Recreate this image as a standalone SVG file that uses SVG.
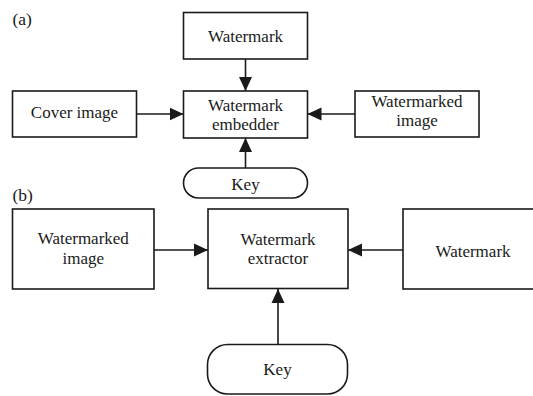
<svg xmlns="http://www.w3.org/2000/svg" width="533" height="396" viewBox="0 0 533 396">
<style>
.box{fill:#fff;stroke:#1a1a1a;stroke-width:1.6}
.t{font-family:"Liberation Serif","Times New Roman",serif;font-size:17px;fill:#1a1a1a;text-anchor:middle}
.lbl{font-family:"Liberation Serif","Times New Roman",serif;font-size:17.5px;fill:#1a1a1a}
.c{stroke:#1a1a1a;stroke-width:1.6;fill:none;marker-end:url(#ah)}
</style>
<defs>
<marker id="ah" markerUnits="userSpaceOnUse" markerWidth="14" markerHeight="14" refX="14" refY="7" orient="auto">
<path d="M0,0.5 L14,7 L0,13.5 z" fill="#1a1a1a"/>
</marker>
</defs>
<rect width="533" height="396" fill="#fff"/>
<text class="lbl" x="12.5" y="25">(a)</text>
<text class="lbl" x="12.5" y="201">(b)</text>

<g id="connectors">
<line class="c" x1="245.5" y1="59" x2="245.5" y2="91"/>
<line class="c" x1="136.5" y1="114" x2="183.5" y2="114"/>
<line class="c" x1="355" y1="114" x2="307.5" y2="114"/>
<line class="c" x1="245.5" y1="168" x2="245.5" y2="138"/>
<line class="c" x1="154" y1="250" x2="208" y2="250"/>
<line class="c" x1="403" y1="250" x2="348" y2="250"/>
<line class="c" x1="278" y1="344.5" x2="278" y2="289"/>
</g>

<g id="a-watermark"><rect class="box" x="183.5" y="12.5" width="124" height="46.5"/><text class="t" x="245.5" y="42">Watermark</text></g>
<g id="a-cover"><rect class="box" x="12.5" y="91" width="124" height="46"/><text class="t" x="74.5" y="118">Cover image</text></g>
<g id="a-embedder"><rect class="box" x="183.5" y="91" width="124" height="47"/><text class="t" x="245.5" y="110.5">Watermark</text><text class="t" x="245.5" y="129.5">embedder</text></g>
<g id="a-watermarked"><rect class="box" x="355" y="91" width="124" height="46"/><text class="t" x="417" y="107">Watermarked</text><text class="t" x="417" y="126">image</text></g>
<g id="a-key"><rect class="box" x="183.5" y="168" width="124" height="30" rx="15" ry="15"/><text class="t" x="245.5" y="189.5">Key</text></g>

<g id="b-watermarked"><rect class="box" x="12.5" y="209" width="141.5" height="80"/><text class="t" x="83.3" y="244">Watermarked</text><text class="t" x="83.3" y="264">image</text></g>
<g id="b-extractor"><rect class="box" x="208" y="209" width="140" height="79.5"/><text class="t" x="278" y="245">Watermark</text><text class="t" x="278" y="264">extractor</text></g>
<g id="b-watermark"><rect class="box" x="403" y="209" width="141" height="80"/><text class="t" x="473" y="257">Watermark</text></g>
<g id="b-key"><rect class="box" x="207.5" y="344.5" width="140" height="49.5" rx="20" ry="20"/><text class="t" x="277.5" y="375">Key</text></g>
</svg>
